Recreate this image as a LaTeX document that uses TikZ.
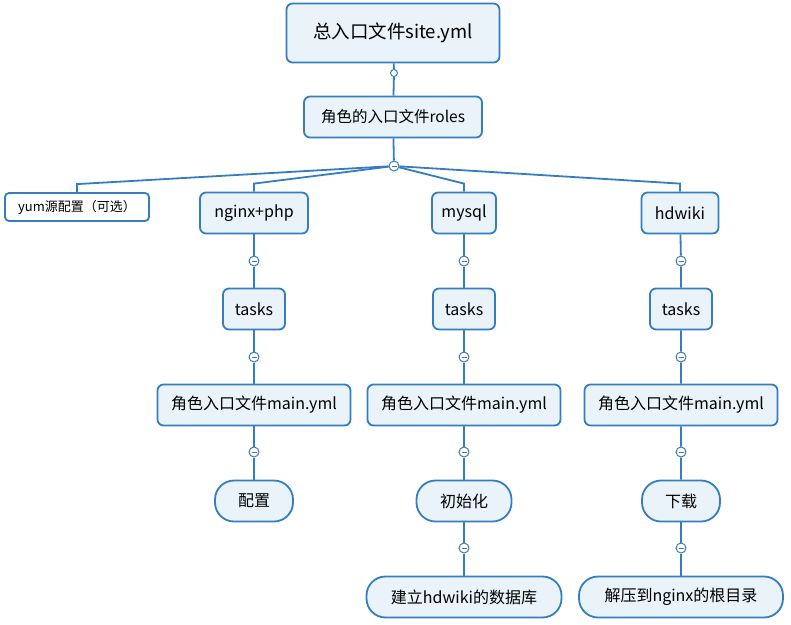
\documentclass[tikz,border=0pt]{standalone}
\usepackage{fontspec}
\setmainfont{Noto Sans CJK SC}
\definecolor{mapblue}{RGB}{52,125,192}
\definecolor{mapfill}{RGB}{234,242,250}
\definecolor{foldmark}{RGB}{110,110,110}

\begin{document}
\begin{tikzpicture}[x=1pt,y=-1pt,
  topic/.style={draw=mapblue,fill=mapfill,line width=1.8pt,rounded corners=6pt,
    minimum height=41pt,inner sep=0pt,font=\fontsize{16}{19}\selectfont},
  leaf/.style={topic,rounded corners=19pt},
  link/.style={draw=mapblue,line width=1.8pt},
  fold/.style={circle,draw=mapblue,fill=white,line width=1pt,minimum size=10pt,inner sep=0pt,
    path picture={\draw[foldmark,line width=1pt]
      ([xshift=-2.5pt]path picture bounding box.center) -- ([xshift=2.5pt]path picture bounding box.center);}},
  dot/.style={circle,draw=mapblue,fill=white,line width=1pt,minimum size=7pt,inner sep=0pt}]
\useasboundingbox (0,0) rectangle (791,624);

% Root and roles
\node[topic,minimum width=213pt,minimum height=59pt,font=\fontsize{18.5}{22}\selectfont] (site) at (393,33) {总入口文件site.yml};
\node[dot] (sitedot) at (394,73) {};
\node[topic,minimum width=178pt,font=\fontsize{15.5}{19}\selectfont] (roles) at (393,117) {角色的入口文件roles};
\node[fold] (rolesfold) at (394,166) {};
\draw[link] (site) -- (sitedot) -- (roles) -- (rolesfold);

% First level
\node[topic,rounded corners=4pt,fill=white,minimum width=144pt,minimum height=28pt,
  font=\fontsize{13}{16}\selectfont] (yum) at (77,207) {yum源配置（可选）};
\node[topic,minimum width=108pt] (nginx) at (254,213) {nginx+php};
\node[topic,minimum width=64pt] (mysql) at (464,213) {mysql};
\node[topic,minimum width=77pt] (hdwiki) at (680,213) {hdwiki};
\foreach \c in {yum,nginx,mysql,hdwiki}
  \draw[link] (rolesfold) -- ([yshift=8pt]\c.north) -- (\c.north);

% Tasks and main.yml
\foreach \c/\x in {nginx/254,mysql/464,hdwiki/681} {
  \node[fold] (\c-f1) at (\x,261) {};
  \node[topic,minimum width=62pt] (\c-tasks) at (\x,309) {tasks};
  \node[fold] (\c-f2) at (\x,357) {};
  \node[topic,minimum width=193pt] (\c-main) at (\x,405) {角色入口文件main.yml};
  \node[fold] (\c-f3) at (\x,452) {};
}

% Leaves
\node[leaf,minimum width=78pt] (nginx-leaf) at (254,501) {配置};
\node[leaf,minimum width=95pt] (mysql-leaf) at (464,501) {初始化};
\node[leaf,minimum width=78pt] (hdwiki-leaf) at (681,501) {下载};
\foreach \c in {nginx,mysql,hdwiki}
  \draw[link] (\c) -- (\c-f1) -- (\c-tasks) -- (\c-f2) -- (\c-main) -- (\c-f3) -- (\c-leaf);

\node[fold] (mysql-f4) at (464,548) {};
\node[leaf,minimum width=195pt] (mysql-end) at (464,597) {建立hdwiki的数据库};
\node[fold] (hdwiki-f4) at (681,548) {};
\node[leaf,minimum width=204pt] (hdwiki-end) at (681,597) {解压到nginx的根目录};
\draw[link] (mysql-leaf) -- (mysql-f4) -- (mysql-end);
\draw[link] (hdwiki-leaf) -- (hdwiki-f4) -- (hdwiki-end);

\end{tikzpicture}
\end{document}
